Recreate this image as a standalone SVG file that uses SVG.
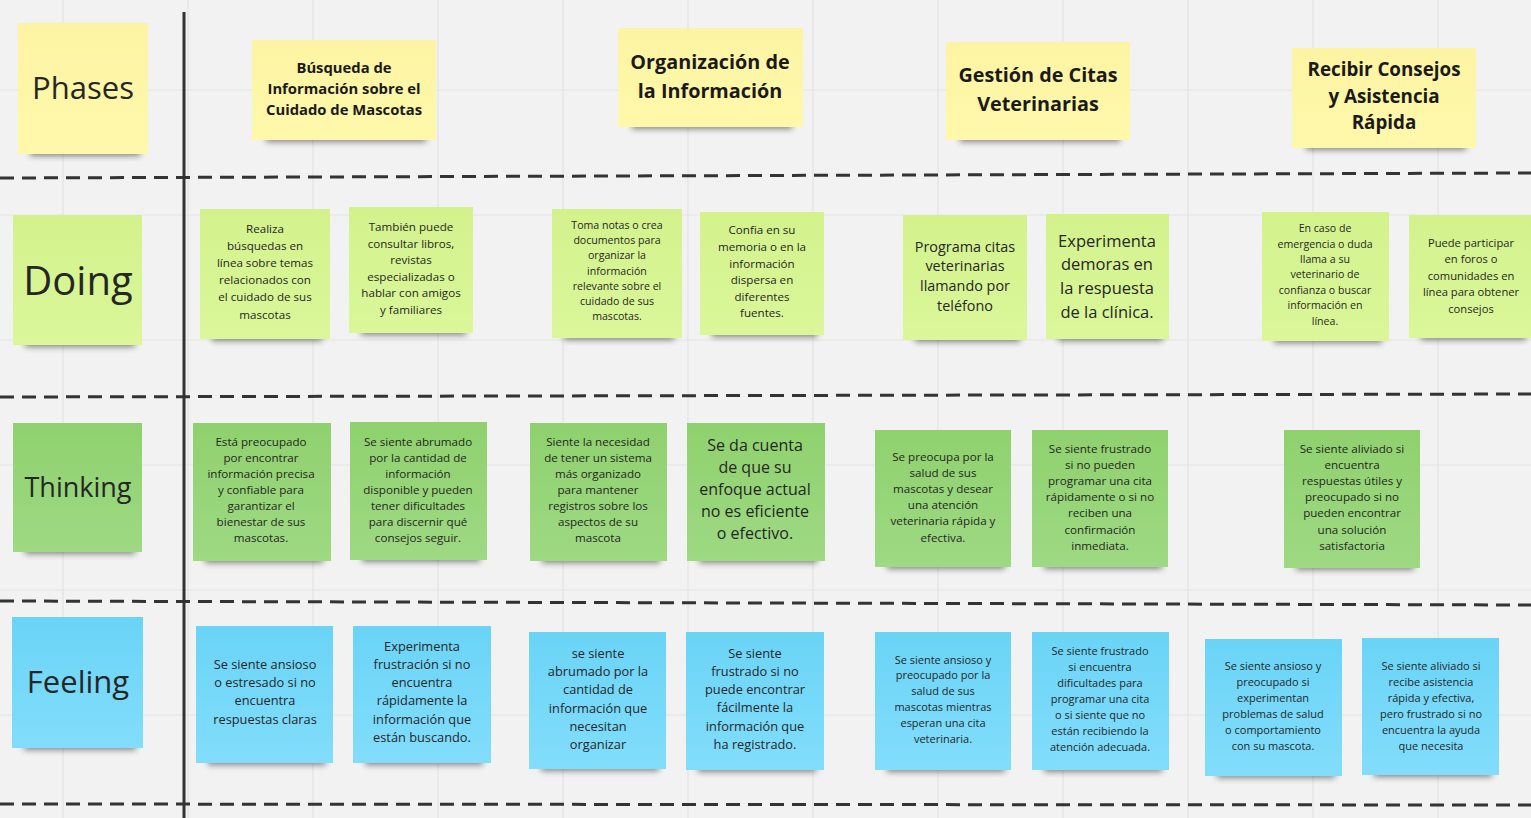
<svg xmlns="http://www.w3.org/2000/svg" width="1531" height="818" viewBox="0 0 1531 818">
<style>
text{font-family:"Open Sans","Noto Sans","Liberation Sans",sans-serif;fill:#262626;text-anchor:middle;dominant-baseline:central}
.hd{font-weight:bold;fill:#1a1a1a}
.grid{stroke:#e3e3e3;stroke-width:1.2}
.dash{stroke:#333;stroke-width:3;stroke-dasharray:14 8;fill:none}
.sh{fill:#000;opacity:.45;filter:url(#blur)}
.y{fill:url(#gy)}
.lg{fill:url(#glg)}
.g{fill:url(#gg)}
.b{fill:url(#gb)}
.s11{font-size:11px}
.s12{font-size:11.6px}
.s13{font-size:12.8px}
.tx{transform:translateY(-1px)}
</style>
<defs>
<filter id="blur" x="-20%" y="-100%" width="140%" height="300%"><feGaussianBlur stdDeviation="3"/></filter>
<linearGradient id="gy" x1="0" y1="0" x2="0" y2="1"><stop offset="0" stop-color="#fdf4a3"/><stop offset="1" stop-color="#fff8ab"/></linearGradient>
<linearGradient id="glg" x1="0" y1="0" x2="0" y2="1"><stop offset="0" stop-color="#d3f28c"/><stop offset="1" stop-color="#dbf79a"/></linearGradient>
<linearGradient id="gg" x1="0" y1="0" x2="0" y2="1"><stop offset="0" stop-color="#8fd16e"/><stop offset="1" stop-color="#9ed983"/></linearGradient>
<linearGradient id="gb" x1="0" y1="0" x2="0" y2="1"><stop offset="0" stop-color="#6ad4f6"/><stop offset="1" stop-color="#82ddfb"/></linearGradient>
</defs>
<rect width="1531" height="818" fill="#f2f2f2"/>
<g id="grid">
<path class="grid" d="M63 0V818M188 0V818M313 0V818M438 0V818M563 0V818M688 0V818M813 0V818M938 0V818M1063 0V818M1188 0V818M1313 0V818M1438 0V818M0 90H1531M0 215H1531M0 340H1531M0 465H1531M0 590H1531M0 715H1531"/>
</g>
<g id="connectors">
<line class="dash" x1="0" y1="178" x2="1531" y2="173"/>
<line class="dash" x1="0" y1="397" x2="1531" y2="394"/>
<line class="dash" x1="0" y1="601" x2="1531" y2="605"/>
<line class="dash" x1="0" y1="804" x2="1531" y2="805"/>
<line x1="184" y1="12" x2="184" y2="818" stroke="#333" stroke-width="3"/>
</g>

<g id="phases"><rect class="sh" x="30" y="144" width="110" height="12"/><rect class="y" x="18" y="23" width="130" height="131"/><text class="tx" x="83" y="88" font-size="31">Phases</text></g>
<g id="doing"><rect class="sh" x="25" y="335" width="110" height="12"/><rect class="lg" x="13" y="215" width="129" height="130"/><text class="tx" x="78" y="280" font-size="40">Doing</text></g>
<g id="thinking"><rect class="sh" x="25" y="542" width="110" height="12"/><rect class="g" x="13" y="423" width="129" height="129"/><text class="tx" x="78" y="487" font-size="27">Thinking</text></g>
<g id="feeling"><rect class="sh" x="24" y="738" width="112" height="12"/><rect class="b" x="12" y="617" width="131" height="131"/><text class="tx" x="78" y="682" font-size="31">Feeling</text></g>

<g id="h1"><rect class="sh" x="266" y="130" width="160" height="12"/><rect class="y" x="252" y="40" width="184" height="100"/><text class="hd tx" font-size="14.8"><tspan x="344" y="68">Búsqueda de</tspan><tspan x="344" y="89">Información sobre el</tspan><tspan x="344" y="110">Cuidado de Mascotas</tspan></text></g>
<g id="h2"><rect class="sh" x="632" y="117" width="160" height="12"/><rect class="y" x="618" y="28" width="185" height="99"/><text class="hd tx" font-size="19.8"><tspan x="710" y="62">Organización de</tspan><tspan x="710" y="91">la Información</tspan></text></g>
<g id="h3"><rect class="sh" x="960" y="130" width="160" height="12"/><rect class="y" x="946" y="42" width="184" height="98"/><text class="hd tx" font-size="19.8"><tspan x="1038" y="75">Gestión de Citas</tspan><tspan x="1038" y="104">Veterinarias</tspan></text></g>
<g id="h4"><rect class="sh" x="1306" y="138" width="160" height="12"/><rect class="y" x="1292" y="48" width="184" height="100"/><text class="hd tx" font-size="18.8"><tspan x="1384" y="70">Recibir Consejos</tspan><tspan x="1384" y="97">y Asistencia</tspan><tspan x="1384" y="123">Rápida</tspan></text></g>

<g id="d1"><rect class="sh" x="212" y="329" width="110" height="12"/><rect class="lg" x="200" y="209" width="130" height="130"/><text class="s12 tx"><tspan x="265" y="229">Realiza</tspan><tspan x="265" y="246">búsquedas en</tspan><tspan x="265" y="263">línea sobre temas</tspan><tspan x="265" y="280">relacionados con</tspan><tspan x="265" y="297">el cuidado de sus</tspan><tspan x="265" y="315">mascotas</tspan></text></g>
<g id="d2"><rect class="sh" x="361" y="323" width="105" height="12"/><rect class="lg" x="349" y="207" width="124" height="126"/><text class="s12 tx"><tspan x="411" y="227">También puede</tspan><tspan x="411" y="244">consultar libros,</tspan><tspan x="411" y="260">revistas</tspan><tspan x="411" y="277">especializadas o</tspan><tspan x="411" y="293">hablar con amigos</tspan><tspan x="411" y="310">y familiares</tspan></text></g>
<g id="d3"><rect class="sh" x="564" y="328" width="110" height="12"/><rect class="lg" x="552" y="209" width="130" height="129"/><text class="tx" font-size="10.6"><tspan x="617" y="226">Toma notas o crea</tspan><tspan x="617" y="241">documentos para</tspan><tspan x="617" y="256">organizar la</tspan><tspan x="617" y="272">información</tspan><tspan x="617" y="287">relevante sobre el</tspan><tspan x="617" y="302">cuidado de sus</tspan><tspan x="617" y="317">mascotas.</tspan></text></g>
<g id="d4"><rect class="sh" x="712" y="325" width="105" height="12"/><rect class="lg" x="700" y="212" width="124" height="123"/><text class="s12 tx"><tspan x="762" y="230">Confia en su</tspan><tspan x="762" y="247">memoria o en la</tspan><tspan x="762" y="264">información</tspan><tspan x="762" y="280">dispersa en</tspan><tspan x="762" y="297">diferentes</tspan><tspan x="762" y="313">fuentes.</tspan></text></g>
<g id="d5"><rect class="sh" x="915" y="330" width="105" height="12"/><rect class="lg" x="903" y="215" width="124" height="125"/><text class="tx" font-size="14.4"><tspan x="965" y="247">Programa citas</tspan><tspan x="965" y="266">veterinarias</tspan><tspan x="965" y="286">llamando por</tspan><tspan x="965" y="306">teléfono</tspan></text></g>
<g id="d6"><rect class="sh" x="1058" y="329" width="105" height="12"/><rect class="lg" x="1046" y="214" width="123" height="125"/><text class="tx" font-size="16.5"><tspan x="1107" y="241">Experimenta</tspan><tspan x="1107" y="264">demoras en</tspan><tspan x="1107" y="288">la respuesta</tspan><tspan x="1107" y="312">de la clínica.</tspan></text></g>
<g id="d7"><rect class="sh" x="1274" y="331" width="108" height="12"/><rect class="lg" x="1262" y="212" width="127" height="129"/><text class="tx" font-size="10.6"><tspan x="1325" y="229">En caso de</tspan><tspan x="1325" y="245">emergencia o duda</tspan><tspan x="1325" y="260">llama a su</tspan><tspan x="1325" y="275">veterinario de</tspan><tspan x="1325" y="291">confianza o buscar</tspan><tspan x="1325" y="306">información en</tspan><tspan x="1325" y="322">línea.</tspan></text></g>
<g id="d8"><rect class="sh" x="1421" y="328" width="105" height="12"/><rect class="lg" x="1409" y="215" width="122" height="123"/><text class="tx" font-size="11.2"><tspan x="1471" y="243">Puede participar</tspan><tspan x="1471" y="259">en foros o</tspan><tspan x="1471" y="276">comunidades en</tspan><tspan x="1471" y="292">línea para obtener</tspan><tspan x="1471" y="309">consejos</tspan></text></g>

<g id="t1"><rect class="sh" x="205" y="551" width="118" height="12"/><rect class="g" x="193" y="423" width="138" height="138"/><text class="s12 tx"><tspan x="261" y="442">Está preocupado</tspan><tspan x="261" y="458">por encontrar</tspan><tspan x="261" y="474">información precisa</tspan><tspan x="261" y="490">y confiable para</tspan><tspan x="261" y="506">garantizar el</tspan><tspan x="261" y="522">bienestar de sus</tspan><tspan x="261" y="538">mascotas.</tspan></text></g>
<g id="t2"><rect class="sh" x="362" y="550" width="118" height="12"/><rect class="g" x="350" y="422" width="137" height="138"/><text class="s12 tx"><tspan x="418" y="442">Se siente abrumado</tspan><tspan x="418" y="458">por la cantidad de</tspan><tspan x="418" y="474">información</tspan><tspan x="418" y="490">disponible y pueden</tspan><tspan x="418" y="506">tener dificultades</tspan><tspan x="418" y="522">para discernir qué</tspan><tspan x="418" y="538">consejos seguir.</tspan></text></g>
<g id="t3"><rect class="sh" x="542" y="551" width="118" height="12"/><rect class="g" x="530" y="423" width="137" height="138"/><text class="s12 tx"><tspan x="598" y="442">Siente la necesidad</tspan><tspan x="598" y="458">de tener un sistema</tspan><tspan x="598" y="474">más organizado</tspan><tspan x="598" y="490">para mantener</tspan><tspan x="598" y="506">registros sobre los</tspan><tspan x="598" y="522">aspectos de su</tspan><tspan x="598" y="538">mascota</tspan></text></g>
<g id="t4"><rect class="sh" x="699" y="551" width="118" height="12"/><rect class="g" x="687" y="423" width="138" height="138"/><text class="tx" font-size="16"><tspan x="755" y="446">Se da cuenta</tspan><tspan x="755" y="468">de que su</tspan><tspan x="755" y="490">enfoque actual</tspan><tspan x="755" y="512">no es eficiente</tspan><tspan x="755" y="534">o efectivo.</tspan></text></g>
<g id="t5"><rect class="sh" x="887" y="557" width="118" height="12"/><rect class="g" x="875" y="430" width="136" height="137"/><text class="s12 tx"><tspan x="943" y="457">Se preocupa por la</tspan><tspan x="943" y="473">salud de sus</tspan><tspan x="943" y="489">mascotas y desear</tspan><tspan x="943" y="505">una atención</tspan><tspan x="943" y="521">veterinaria rápida y</tspan><tspan x="943" y="538">efectiva.</tspan></text></g>
<g id="t6"><rect class="sh" x="1044" y="557" width="118" height="12"/><rect class="g" x="1032" y="430" width="136" height="137"/><text class="s12 tx"><tspan x="1100" y="449">Se siente frustrado</tspan><tspan x="1100" y="465">si no pueden</tspan><tspan x="1100" y="481">programar una cita</tspan><tspan x="1100" y="497">rápidamente o si no</tspan><tspan x="1100" y="513">reciben una</tspan><tspan x="1100" y="530">confirmación</tspan><tspan x="1100" y="546">inmediata.</tspan></text></g>
<g id="t7"><rect class="sh" x="1296" y="558" width="118" height="12"/><rect class="g" x="1284" y="430" width="136" height="138"/><text class="s12 tx"><tspan x="1352" y="449">Se siente aliviado si</tspan><tspan x="1352" y="465">encuentra</tspan><tspan x="1352" y="481">respuestas útiles y</tspan><tspan x="1352" y="497">preocupado si no</tspan><tspan x="1352" y="513">pueden encontrar</tspan><tspan x="1352" y="530">una solución</tspan><tspan x="1352" y="546">satisfactoria</tspan></text></g>

<g id="f1"><rect class="sh" x="208" y="753" width="118" height="12"/><rect class="b" x="196" y="626" width="137" height="137"/><text class="s13 tx"><tspan x="265" y="665">Se siente ansioso</tspan><tspan x="265" y="683">o estresado si no</tspan><tspan x="265" y="701">encuentra</tspan><tspan x="265" y="720">respuestas claras</tspan></text></g>
<g id="f2"><rect class="sh" x="365" y="753" width="118" height="12"/><rect class="b" x="353" y="626" width="138" height="137"/><text class="s13 tx"><tspan x="422" y="647">Experimenta</tspan><tspan x="422" y="665">frustración si no</tspan><tspan x="422" y="683">encuentra</tspan><tspan x="422" y="701">rápidamente la</tspan><tspan x="422" y="720">información que</tspan><tspan x="422" y="738">están buscando.</tspan></text></g>
<g id="f3"><rect class="sh" x="541" y="759" width="118" height="12"/><rect class="b" x="529" y="632" width="137" height="137"/><text class="s13 tx"><tspan x="598" y="654">se siente</tspan><tspan x="598" y="672">abrumado por la</tspan><tspan x="598" y="690">cantidad de</tspan><tspan x="598" y="709">información que</tspan><tspan x="598" y="727">necesitan</tspan><tspan x="598" y="745">organizar</tspan></text></g>
<g id="f4"><rect class="sh" x="698" y="760" width="118" height="12"/><rect class="b" x="686" y="632" width="138" height="138"/><text class="s13 tx"><tspan x="755" y="654">Se siente</tspan><tspan x="755" y="672">frustrado si no</tspan><tspan x="755" y="690">puede encontrar</tspan><tspan x="755" y="708">fácilmente la</tspan><tspan x="755" y="727">información que</tspan><tspan x="755" y="745">ha registrado.</tspan></text></g>
<g id="f5"><rect class="sh" x="887" y="760" width="118" height="12"/><rect class="b" x="875" y="632" width="136" height="138"/><text class="s11 tx"><tspan x="943" y="660">Se siente ansioso y</tspan><tspan x="943" y="675">preocupado por la</tspan><tspan x="943" y="691">salud de sus</tspan><tspan x="943" y="707">mascotas mientras</tspan><tspan x="943" y="723">esperan una cita</tspan><tspan x="943" y="739">veterinaria.</tspan></text></g>
<g id="f6"><rect class="sh" x="1044" y="760" width="118" height="12"/><rect class="b" x="1032" y="632" width="137" height="138"/><text class="s11 tx"><tspan x="1100" y="651">Se siente frustrado</tspan><tspan x="1100" y="667">si encuentra</tspan><tspan x="1100" y="683">dificultades para</tspan><tspan x="1100" y="699">programar una cita</tspan><tspan x="1100" y="715">o si siente que no</tspan><tspan x="1100" y="731">están recibiendo la</tspan><tspan x="1100" y="747">atención adecuada.</tspan></text></g>
<g id="f7"><rect class="sh" x="1217" y="766" width="118" height="12"/><rect class="b" x="1205" y="639" width="137" height="137"/><text class="s11 tx"><tspan x="1273" y="666">Se siente ansioso y</tspan><tspan x="1273" y="682">preocupado si</tspan><tspan x="1273" y="698">experimentan</tspan><tspan x="1273" y="714">problemas de salud</tspan><tspan x="1273" y="730">o comportamiento</tspan><tspan x="1273" y="746">con su mascota.</tspan></text></g>
<g id="f8"><rect class="sh" x="1374" y="765" width="118" height="12"/><rect class="b" x="1362" y="638" width="137" height="137"/><text class="s11 tx"><tspan x="1431" y="666">Se siente aliviado si</tspan><tspan x="1431" y="682">recibe asistencia</tspan><tspan x="1431" y="698">rápida y efectiva,</tspan><tspan x="1431" y="714">pero frustrado si no</tspan><tspan x="1431" y="730">encuentra la ayuda</tspan><tspan x="1431" y="746">que necesita</tspan></text></g>
</svg>
